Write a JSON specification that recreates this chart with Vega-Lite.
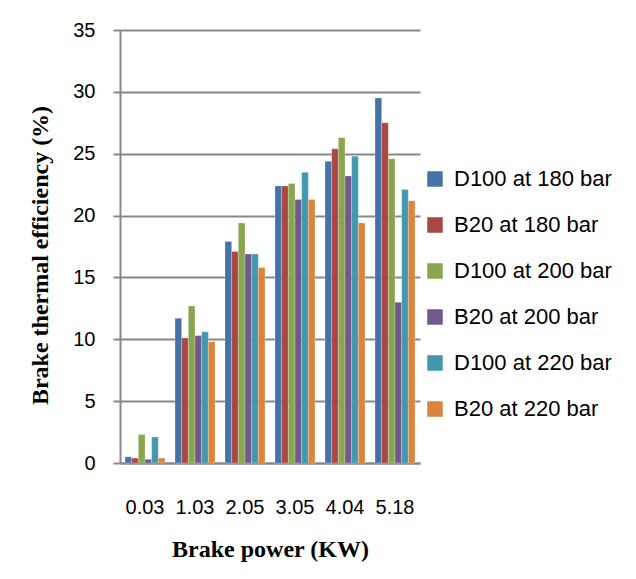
{
  "$schema": "https://vega.github.io/schema/vega-lite/v6.json",
  "width": 300,
  "height": 433,
  "autosize": {"type": "none"},
  "padding": {"left": 120, "top": 30, "right": 216, "bottom": 116},
  "background": "white",
  "config": {"view": {"stroke": null}, "font": "Liberation Sans"},
  "data": {"values": [
    {"p": "0.03", "s": "D100 at 180 bar", "v": 0.5},
    {"p": "0.03", "s": "B20 at 180 bar", "v": 0.4},
    {"p": "0.03", "s": "D100 at 200 bar", "v": 2.3},
    {"p": "0.03", "s": "B20  at 200 bar", "v": 0.3},
    {"p": "0.03", "s": "D100 at 220 bar", "v": 2.1},
    {"p": "0.03", "s": "B20 at 220 bar", "v": 0.4},
    {"p": "1.03", "s": "D100 at 180 bar", "v": 11.7},
    {"p": "1.03", "s": "B20 at 180 bar", "v": 10.1},
    {"p": "1.03", "s": "D100 at 200 bar", "v": 12.7},
    {"p": "1.03", "s": "B20  at 200 bar", "v": 10.3},
    {"p": "1.03", "s": "D100 at 220 bar", "v": 10.6},
    {"p": "1.03", "s": "B20 at 220 bar", "v": 9.8},
    {"p": "2.05", "s": "D100 at 180 bar", "v": 17.9},
    {"p": "2.05", "s": "B20 at 180 bar", "v": 17.1},
    {"p": "2.05", "s": "D100 at 200 bar", "v": 19.4},
    {"p": "2.05", "s": "B20  at 200 bar", "v": 16.9},
    {"p": "2.05", "s": "D100 at 220 bar", "v": 16.9},
    {"p": "2.05", "s": "B20 at 220 bar", "v": 15.8},
    {"p": "3.05", "s": "D100 at 180 bar", "v": 22.4},
    {"p": "3.05", "s": "B20 at 180 bar", "v": 22.4},
    {"p": "3.05", "s": "D100 at 200 bar", "v": 22.6},
    {"p": "3.05", "s": "B20  at 200 bar", "v": 21.3},
    {"p": "3.05", "s": "D100 at 220 bar", "v": 23.5},
    {"p": "3.05", "s": "B20 at 220 bar", "v": 21.3},
    {"p": "4.04", "s": "D100 at 180 bar", "v": 24.4},
    {"p": "4.04", "s": "B20 at 180 bar", "v": 25.4},
    {"p": "4.04", "s": "D100 at 200 bar", "v": 26.3},
    {"p": "4.04", "s": "B20  at 200 bar", "v": 23.2},
    {"p": "4.04", "s": "D100 at 220 bar", "v": 24.8},
    {"p": "4.04", "s": "B20 at 220 bar", "v": 19.4},
    {"p": "5.18", "s": "D100 at 180 bar", "v": 29.5},
    {"p": "5.18", "s": "B20 at 180 bar", "v": 27.5},
    {"p": "5.18", "s": "D100 at 200 bar", "v": 24.6},
    {"p": "5.18", "s": "B20  at 200 bar", "v": 13.0},
    {"p": "5.18", "s": "D100 at 220 bar", "v": 22.1},
    {"p": "5.18", "s": "B20 at 220 bar", "v": 21.2}
  ]},
  "mark": {"type": "bar", "stroke": "white", "strokeOpacity": 0.5, "strokeWidth": 0.5},
  "encoding": {
    "x": {
      "field": "p", "type": "nominal", "sort": null,
      "scale": {"paddingInner": 0.2, "paddingOuter": 0.1},
      "axis": {
        "title": "Brake power  (KW)", "titleFont": "Liberation Serif", "titleFontSize": 24, "titleFontWeight": "bold", "titleColor": "black", "titlePadding": 20,
        "labelAngle": 0, "labelFontSize": 20, "labelColor": "black", "labelPadding": 34,
        "ticks": false, "domainColor": "#888888", "domainWidth": 2, "grid": false
      }
    },
    "xOffset": {"field": "s", "type": "nominal", "sort": null, "scale": {"paddingInner": 0}},
    "y": {
      "field": "v", "type": "quantitative",
      "scale": {"domain": [0, 35]},
      "axis": {
        "values": [0, 5, 10, 15, 20, 25, 30, 35],
        "title": "Brake thermal  efficiency (%)", "titleFont": "Liberation Serif", "titleFontSize": 24, "titleFontWeight": "bold", "titleColor": "black", "titlePadding": 20, "titleY": 225,
        "labelFontSize": 20, "labelColor": "black", "labelPadding": 18,
        "tickSize": 7, "tickColor": "#888888", "tickWidth": 2,
        "domainColor": "#888888", "domainWidth": 2,
        "gridColor": "#888888", "gridWidth": 2
      }
    },
    "color": {
      "field": "s", "type": "nominal", "sort": null,
      "scale": {"range": ["#4572A7", "#AA4643", "#89A54E", "#71588F", "#4198AF", "#DB843D"]},
      "legend": {
        "title": null, "orient": "none", "legendX": 304, "legendY": 138,
        "symbolType": "square", "symbolSize": 240, "symbolStrokeWidth": 0,
        "labelFontSize": 22, "labelColor": "black", "rowPadding": 24, "labelOffset": 8
      }
    }
  }
}
